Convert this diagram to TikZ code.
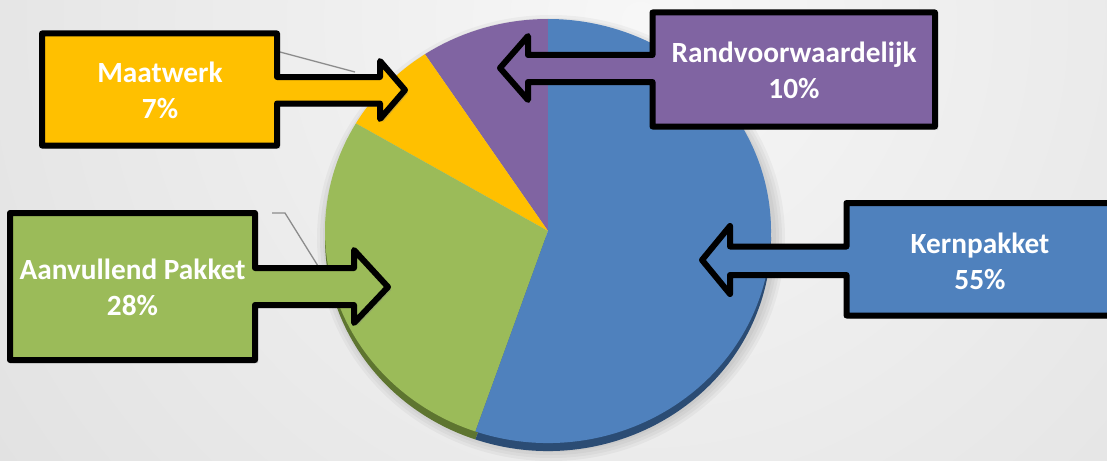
\documentclass[tikz,border=0pt]{standalone}
\usepackage{fontspec}
\setmainfont{Carlito}
\usetikzlibrary{shadows}
\definecolor{kblue}{HTML}{4F81BD}
\definecolor{kpurple}{HTML}{8064A2}
\definecolor{kyellow}{HTML}{FFC000}
\definecolor{kgreen}{HTML}{9BBB59}
\definecolor{kbluedark}{HTML}{2B4C74}
\definecolor{kgreendark}{HTML}{5E7530}
\definecolor{leadergray}{HTML}{8C8C8C}
\definecolor{bginner}{HTML}{F7F7F7}
\definecolor{bgouter}{HTML}{CCCCCC}
\tikzset{
  callout/.style={draw=black, line width=6pt, line join=round,
    drop shadow={opacity=0.35, shadow xshift=3pt, shadow yshift=-3pt}},
  callouttext/.style={text=white, font=\fontsize{29.3}{36}\selectfont\bfseries, align=center, inner sep=0pt},
  leaderline/.style={draw=leadergray, line width=1.3pt},
}
\begin{document}
\begin{tikzpicture}[x=1pt,y=1pt]
\clip (0,0) rectangle (1107,-460);
\shade[inner color=bginner, outer color=bgouter] (640,-20) circle[radius=1600];

% pie shadow
\foreach \r in {2,5,8,11}
  \fill[black, opacity=0.035] (551,-238) ellipse[x radius=223+\r, y radius=212+\r];

% pie side
\coordinate (cs) at (548,-239);
\fill[kgreendark] (cs) -- ++(149.5:223 and 212) arc[start angle=149.5, end angle=251, x radius=223, y radius=212] -- cycle;
\fill[kbluedark] (cs) -- ++(251:223 and 212) arc[start angle=251, end angle=450, x radius=223, y radius=212] -- cycle;

% pie top face
\coordinate (c) at (548,-231);
\fill[kpurple] (c) -- ++(90:223 and 212) arc[start angle=90, end angle=123.5, x radius=223, y radius=212] -- cycle;
\fill[kyellow] (c) -- ++(123.5:223 and 212) arc[start angle=123.5, end angle=149.5, x radius=223, y radius=212] -- cycle;
\fill[kgreen] (c) -- ++(149.5:223 and 212) arc[start angle=149.5, end angle=251, x radius=223, y radius=212] -- cycle;
\fill[kblue] (c) -- ++(251:223 and 212) arc[start angle=251, end angle=450, x radius=223, y radius=212] -- cycle;

% leader lines
\coordinate (m1) at (280,-52);
\coordinate (m2) at (355,-72);
\draw[leaderline] (m1) -- (m2);
\coordinate (a1) at (272,-213);
\coordinate (a2) at (285,-213);
\coordinate (a3) at (318,-266);
\draw[leaderline] (a1) -- (a2) -- (a3);

% callouts
\path[callout, fill=kyellow] (42,-33.5) -- (277,-33.5) -- (277,-77) -- (380,-77) -- (380,-61) -- (405,-90)
  -- (380,-119) -- (380,-103.5) -- (277,-103.5) -- (277,-145.5) -- (42,-145.5) -- cycle;
\path[callout, fill=kgreen] (10,-213) -- (255,-213) -- (255,-268) -- (354,-268) -- (354,-250) -- (388,-287)
  -- (354,-323) -- (354,-305) -- (255,-305) -- (255,-360) -- (10,-360) -- cycle;
\path[callout, fill=kpurple] (652.5,-12.5) -- (935,-12.5) -- (935,-126.5) -- (652.5,-126.5) -- (652.5,-82)
  -- (528,-82) -- (528,-100) -- (500,-68) -- (528,-36) -- (528,-55) -- (652.5,-55) -- cycle;
\path[callout, fill=kblue] (1120,-203) -- (846.5,-203) -- (846.5,-246.5) -- (730,-246.5) -- (730,-226)
  -- (702,-260) -- (730,-294) -- (730,-275) -- (846.5,-275) -- (846.5,-315.5) -- (1120,-315.5) -- cycle;

% texts
\node[callouttext] (tmaat) at (160,-90) {Maatwerk\\7\%};
\node[callouttext] (taanv) at (132.5,-287) {Aanvullend Pakket\\28\%};
\node[callouttext] (trand) at (794,-70) {Randvoorwaardelijk\\10\%};
\node[callouttext] (tkern) at (980,-261) {Kernpakket\\55\%};
\end{tikzpicture}
\end{document}
